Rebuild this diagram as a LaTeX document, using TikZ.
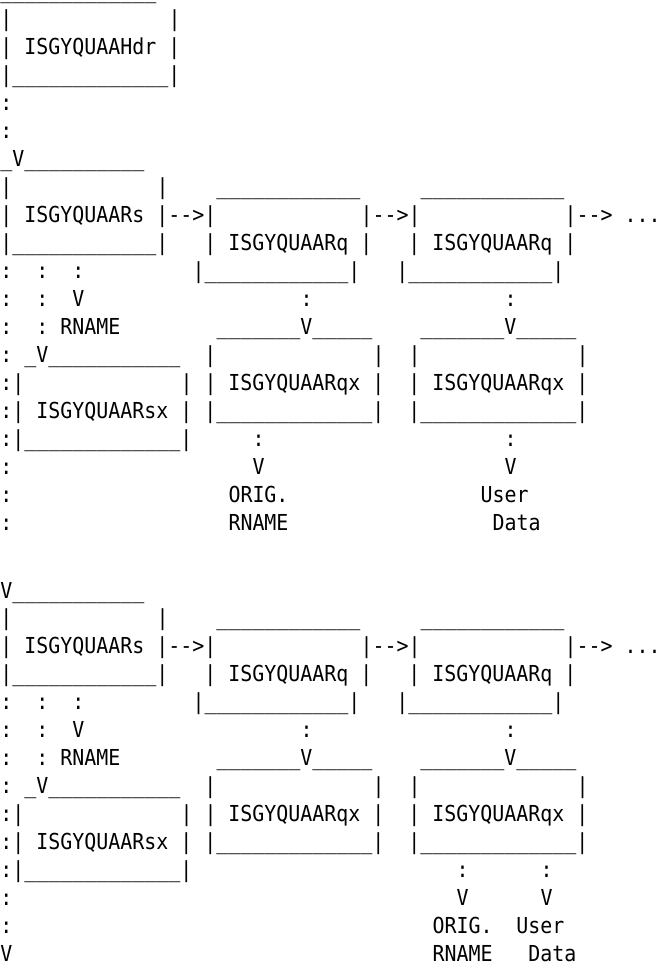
\documentclass[tikz,border=0pt]{standalone}
\usepackage{fontspec}
\usepackage{tikz}
\newfontfamily\asciifont[FakeStretch=0.906,Ligatures=TeXOff]{DejaVu Sans Mono}
\newcommand\gap[1]{\hspace*{#1\fontcharwd\font`\x}}
\newcommand\us[1]{\foreach\k in {1,...,#1}{\_}}

\begin{document}
\begin{tikzpicture}[x=1pt,y=-1pt,
        row/.style={anchor=base west,inner sep=0pt,outer sep=0pt,
            font=\asciifont\fontsize{22}{26}\selectfont\frenchspacing}]
    \useasboundingbox (0,0) rectangle (658,966);

    % Header block
    \node[row] (row1) at (0.5,-1.22) {\us{13}};
    \node[row] (row2) at (0.5,26.74) {|\gap{13}|};
    \node[row] (row3) at (0.5,54.70) {| ISGYQUAAHdr |};
    \node[row] (row4) at (0.5,82.66) {|\us{13}|};
    \node[row] (row5) at (0.5,110.62) {:};
    \node[row] (row6) at (0.5,138.58) {:};

    % First resource chain
    \node[row] (row7) at (0.5,166.54) {\_V\us{10}};
    \node[row] (row8) at (0.5,194.50) {|\gap{12}|\gap{4}\us{12}\gap{5}\us{12}};
    \node[row] (row9) at (0.5,222.46) {| ISGYQUAARs |-->|\gap{12}|-->|\gap{12}|--> ...};
    \node[row] (row10) at (0.5,250.42) {|\us{12}|\gap{3}| ISGYQUAARq |\gap{3}| ISGYQUAARq |};
    \node[row] (row11) at (0.5,278.38) {:\gap{2}:\gap{2}:\gap{9}|\us{12}|\gap{3}|\us{12}|};
    \node[row] (row12) at (0.5,306.34) {:\gap{2}:\gap{2}V\gap{18}:\gap{16}:};
    \node[row] (row13) at (0.5,334.30) {:\gap{2}: RNAME\gap{8}\us{7}V\us{5}\gap{4}\us{7}V\us{5}};
    \node[row] (row14) at (0.5,362.26) {: \_V\us{11}\gap{2}|\gap{13}|\gap{2}|\gap{13}|};
    \node[row] (row15) at (0.5,390.22) {:|\gap{13}| | ISGYQUAARqx |\gap{2}| ISGYQUAARqx |};
    \node[row] (row16) at (0.5,418.18) {:| ISGYQUAARsx | |\us{13}|\gap{2}|\us{13}|};
    \node[row] (row17) at (0.5,446.14) {:|\us{13}|\gap{5}:\gap{20}:};
    \node[row] (row18) at (0.5,474.10) {:\gap{20}V\gap{20}V};
    \node[row] (row19) at (0.5,502.06) {:\gap{18}ORIG.\gap{16}User};
    \node[row] (row20) at (0.5,530.02) {:\gap{18}RNAME\gap{17}Data};

    % Second resource chain
    \node[row] (row23) at (0.5,598.00) {V\us{11}};
    \node[row] (row24) at (0.5,625.96) {|\gap{12}|\gap{4}\us{12}\gap{5}\us{12}};
    \node[row] (row25) at (0.5,653.92) {| ISGYQUAARs |-->|\gap{12}|-->|\gap{12}|--> ...};
    \node[row] (row26) at (0.5,681.88) {|\us{12}|\gap{3}| ISGYQUAARq |\gap{3}| ISGYQUAARq |};
    \node[row] (row27) at (0.5,709.84) {:\gap{2}:\gap{2}:\gap{9}|\us{12}|\gap{3}|\us{12}|};
    \node[row] (row28) at (0.5,737.80) {:\gap{2}:\gap{2}V\gap{18}:\gap{16}:};
    \node[row] (row29) at (0.5,765.76) {:\gap{2}: RNAME\gap{8}\us{7}V\us{5}\gap{4}\us{7}V\us{5}};
    \node[row] (row30) at (0.5,793.72) {: \_V\us{11}\gap{2}|\gap{13}|\gap{2}|\gap{13}|};
    \node[row] (row31) at (0.5,821.68) {:|\gap{13}| | ISGYQUAARqx |\gap{2}| ISGYQUAARqx |};
    \node[row] (row32) at (0.5,849.64) {:| ISGYQUAARsx | |\us{13}|\gap{2}|\us{13}|};
    \node[row] (row33) at (0.5,877.60) {:|\us{13}|\gap{22}:\gap{6}:};
    \node[row] (row34) at (0.5,905.56) {:\gap{37}V\gap{6}V};
    \node[row] (row35) at (0.5,933.52) {:\gap{35}ORIG.\gap{2}User};
    \node[row] (row36) at (0.5,961.48) {V\gap{35}RNAME\gap{3}Data};

\end{tikzpicture}
\end{document}
